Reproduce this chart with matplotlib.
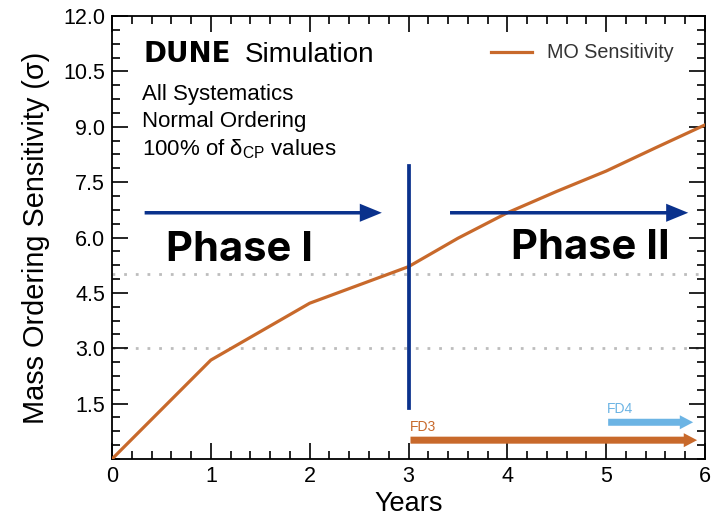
import matplotlib
matplotlib.use("Agg")
import matplotlib.pyplot as plt
from matplotlib.ticker import MultipleLocator, FormatStrFormatter

plt.rcParams['font.family'] = ['Liberation Sans', 'DejaVu Sans']
plt.rcParams['mathtext.fontset'] = 'custom'
plt.rcParams['mathtext.rm'] = 'Liberation Sans'

# Sensitivity curve
years = [0, 1, 2, 3, 3.5, 4, 4.5, 5, 5.5, 6]
sensitivity = [0.0, 2.68, 4.22, 5.21, 5.98, 6.67, 7.25, 7.80, 8.43, 9.05]

# Reference levels (dotted lines)
ref_levels = [3.0, 5.0]

# Phase arrows: (start, end) in years, at one height
phase_arrow_y = 6.67
phase1_span = (0.33, 2.73)
phase2_span = (3.42, 5.83)
phase_split = 3.0
phase_split_range = (1.38, 7.94)

# Far detector arrows: start, end, height
fd3 = (3.02, 5.92, 0.51)
fd4 = (5.02, 5.88, 0.995)

yticks = [1.5, 3.0, 4.5, 6.0, 7.5, 9.0, 10.5, 12.0]
xticks = [0, 1, 2, 3, 4, 5, 6]

orange = '#c8692b'
blue = '#0a318c'
lightblue = '#6cb4e4'

fig = plt.figure(figsize=(7.14, 5.18), dpi=100)
ax = fig.add_axes([0.1569, 0.1139, 0.8305, 0.8552])

ax.plot(years, sensitivity, color=orange, lw=2.3, label='MO Sensitivity', zorder=3)

for lev in ref_levels:
    ax.axhline(lev, color='#bdbdbd', lw=2.0, ls=(0, (1, 3.2)), zorder=1)

ax.plot([phase_split, phase_split], phase_split_range, color=blue, lw=2.7, zorder=4)

for x0, x1 in (phase1_span, phase2_span):
    ax.arrow(x0, phase_arrow_y, x1 - x0, 0, width=0.095, head_width=0.49,
             head_length=0.223, length_includes_head=True, color=blue, lw=0, zorder=4)

ax.text(1.285, 5.37, 'Phase I', family='Inter', weight='bold', fontsize=30,
        ha='center', va='baseline', color='black')
ax.text(4.84, 5.42, 'Phase II', family='Inter', weight='bold', fontsize=30,
        ha='center', va='baseline', color='black')

for (x0, x1, yy), col, name in ((fd3, orange, 'FD3'), (fd4, lightblue, 'FD4')):
    ax.arrow(x0, yy, x1 - x0, 0, width=0.19, head_width=0.38, head_length=0.135,
             length_includes_head=True, color=col, lw=0, zorder=4)
    ax.text(x0 - 0.01, yy + 0.16, name, color=col, fontsize=10, ha='left', va='bottom')

# labels inside the frame
ax.text(0.0523, 0.896, 'DUNE', transform=ax.transAxes, fontsize=20, weight='bold',
        family='DejaVu Sans', ha='left', va='baseline')
ax.text(0.2243, 0.896, 'Simulation', transform=ax.transAxes, fontsize=20,
        ha='left', va='baseline')
info = ['All Systematics', 'Normal Ordering', '100% of δ$_{\\mathrm{CP}}$ values']
for i, line in enumerate(info):
    ax.text(0.0506, 0.8104 - i * 0.062, line, transform=ax.transAxes, fontsize=16,
            ha='left', va='baseline')

ax.legend(loc='center left', bbox_to_anchor=(0.639, 0.9165), frameon=False,
          fontsize=14.2, borderpad=0, borderaxespad=0, handlelength=2.1,
          handletextpad=0.75, labelcolor='#333333')

ax.set_xlim(0, 6)
ax.set_ylim(0, 12)
ax.set_xticks(xticks)
ax.set_yticks(yticks)
ax.yaxis.set_major_formatter(FormatStrFormatter('%.1f'))
ax.xaxis.set_minor_locator(MultipleLocator(0.2))
ax.yaxis.set_minor_locator(MultipleLocator(0.375))
ax.tick_params(which='both', direction='in', top=True, right=True, width=1.2,
               labelsize=15.5, pad=5)
ax.tick_params(which='major', length=11.5)
ax.tick_params(which='minor', length=6)
for sp in ax.spines.values():
    sp.set_linewidth(1.3)

ax.set_xlabel('Years', fontsize=19.5, labelpad=3)
ax.set_ylabel('Mass Ordering Sensitivity (σ)', fontsize=20.8)
ax.yaxis.set_label_coords(-0.105, 0.5)

fig.savefig('out.png', dpi=100)
